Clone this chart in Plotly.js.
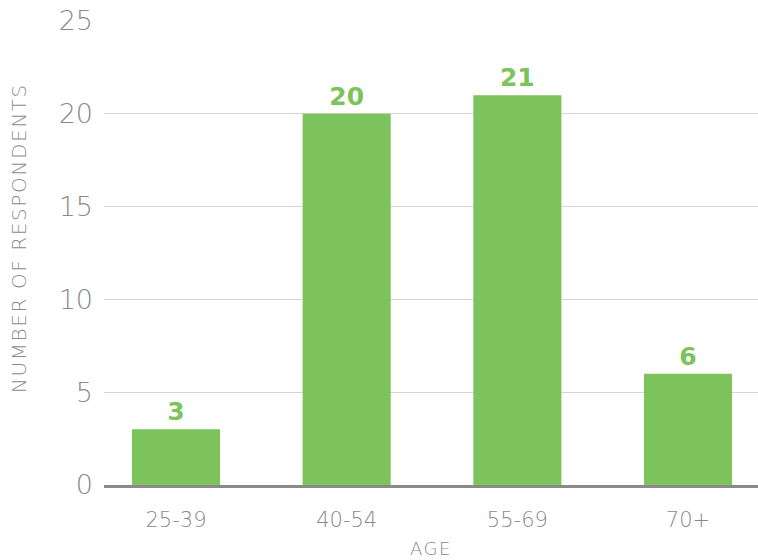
<!DOCTYPE html>
<html>
<head>
<meta charset="utf-8">
<script src="https://cdn.plot.ly/plotly-3.0.1.min.js"></script>
<style>html,body{margin:0;padding:0;background:#fff;}#chart{width:758px;height:560px;}
.annotation-text{letter-spacing:1.6px;}
.xtitle{letter-spacing:1.5px;}
</style>
</head>
<body>
<div id="chart"></div>
<script>
const ageGroups = ["25-39", "40-54", "55-69", "70+"];
const respondents = [3, 20, 21, 6];
const yTicks = [0, 5, 10, 15, 20, 25];
const yTitle = "NUMBER OF RESPONDENTS";

const barColor = "#7DC35B";
const grey = "#8a8a8a";
const thin = "DejaVu Sans";

const trace = {
  type: "bar",
  x: ageGroups,
  y: respondents,
  marker: {color: barColor},
  text: respondents.map(String),
  textposition: "outside",
  cliponaxis: false,
  textfont: {family: "DejaVu Sans", size: 25, color: barColor, weight: 900},
  hoverinfo: "skip"
};

const layout = {
  width: 758, height: 560,
  margin: {l: 104, r: 0, t: 21, b: 75},
  paper_bgcolor: "#fff", plot_bgcolor: "#fff",
  bargap: 0.484,
  showlegend: false,
  font: {family: thin, color: grey},
  xaxis: {
    type: "category",
    range: [-0.422, 3.41],
    showgrid: false,
    showline: true, linecolor: grey, linewidth: 3,
    ticks: "", ticklabelstandoff: 14,
    tickfont: {family: thin, size: 21, color: grey, weight: 200},
    title: {text: "AGE", font: {family: thin, size: 18, color: grey, weight: 200}, standoff: 12}
  },
  yaxis: {
    range: [0, 25],
    tickvals: yTicks,
    ticktext: yTicks.map(String),
    showgrid: true, gridcolor: "#d4d4d4", gridwidth: 1,
    zeroline: false, showline: false,
    ticks: "", ticklabelstandoff: 10,
    tickfont: {family: thin, size: 27, color: grey, weight: 200}
  },
  annotations: [{
    text: yTitle, textangle: -90, showarrow: false,
    xref: "paper", yref: "paper", x: -0.13, y: 0.532,
    xanchor: "center", yanchor: "middle",
    font: {family: thin, size: 20, color: grey, weight: 200}
  }]
};

Plotly.newPlot("chart", [trace], layout, {displayModeBar: false, staticPlot: true});
</script>
</body>
</html>
